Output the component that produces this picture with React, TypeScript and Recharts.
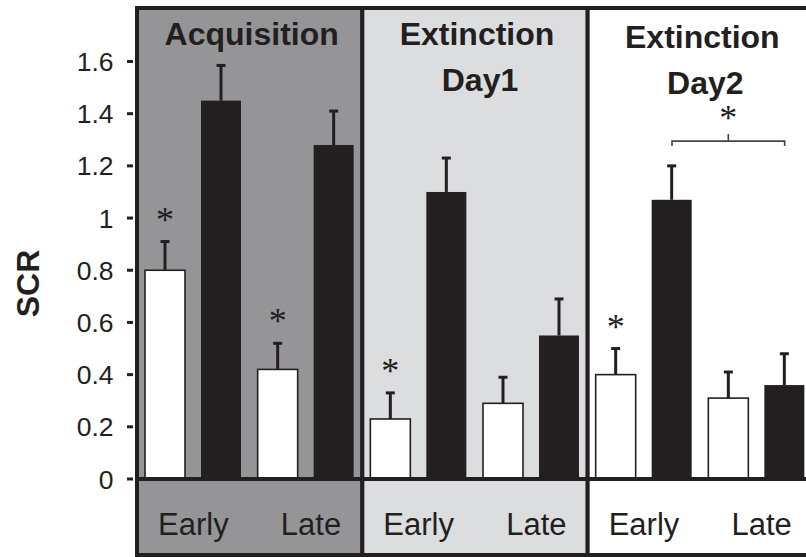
import React from 'react';
import {
  BarChart,
  Bar,
  XAxis,
  YAxis,
  ReferenceArea,
  ReferenceLine,
  LabelList,
} from 'recharts';

// ---------- data ----------
const categories = ['Acq-Early', 'Acq-Late', 'Ext1-Early', 'Ext1-Late', 'Ext2-Early', 'Ext2-Late'];
const tickLabels = ['Early', 'Late', 'Early', 'Late', 'Early', 'Late'];
const csMinus = [0.8, 0.42, 0.23, 0.29, 0.4, 0.31];
const csMinusErr = [0.11, 0.1, 0.1, 0.1, 0.1, 0.1];
const csPlus = [1.45, 1.28, 1.1, 0.55, 1.07, 0.36];
const csPlusErr = [0.135, 0.13, 0.13, 0.14, 0.13, 0.12];
const csMinusSig = ['*', '*', '*', '', '*', ''];
const yTicks = [0, 0.2, 0.4, 0.6, 0.8, 1, 1.2, 1.4, 1.6];

const phases = [
  { from: 'Acq-Early', to: 'Acq-Late', title: ['Acquisition'], fill: '#959598', dy: 0 },
  { from: 'Ext1-Early', to: 'Ext1-Late', title: ['Extinction', 'Day1'], fill: '#dcdddf', dy: 0 },
  { from: 'Ext2-Early', to: 'Ext2-Late', title: ['Extinction', 'Day2'], fill: '#ffffff', dy: 3 },
];
// significance bracket between CS+ Early and CS+ Late in Extinction Day2
const bracket = { from: 'Ext2-Early', to: 'Ext2-Late', y: 1.295, label: '*' };

const data = categories.map((c, i) => ({
  cat: c,
  label: tickLabels[i],
  minus: csMinus[i],
  minusErr: csMinusErr[i],
  plus: csPlus[i],
  plusErr: csPlusErr[i],
  sig: csMinusSig[i],
}));

const INK = '#231f20';
const SANS = '"Liberation Sans", Arial, Helvetica, sans-serif';
const SERIF = '"Liberation Serif", "Times New Roman", serif';
const BAR = 40;
const GAP = 16;

const YTick = (props: any) => {
  const { y, payload } = props;
  return (
    <g>
      <line x1={127} x2={133} y1={y} y2={y} stroke={INK} strokeWidth={3} />
      <text x={113.5} y={y + 9.5} textAnchor="end" fontSize={26.5} fill={INK} fontFamily={SANS}>
        {payload.value}
      </text>
    </g>
  );
};

const XTick = (props: any) => {
  const { x, y, payload, index } = props;
  const lbl = tickLabels[index] ?? payload.value;
  const shift = lbl === 'Late' ? 5 : 0;
  return (
    <text x={x + shift} y={y + 56} textAnchor="middle" fontSize={31} fill={INK} fontFamily={SANS}>
      {lbl}
    </text>
  );
};

const PanelTitle = (lines: string[], dy: number) => (props: any) => {
  const vb = props.viewBox || {};
  const cx = vb.x + vb.width / 2;
  return (
    <g>
      {lines.map((t, i) => (
        <text
          key={i}
          x={cx + (i > 0 ? 5 : 2)}
          y={vb.y + 37 + dy + i * 46}
          textAnchor="middle"
          fontSize={32}
          fontWeight="bold"
          fill={INK}
          fontFamily={SANS}
        >
          {t}
        </text>
      ))}
    </g>
  );
};

// bar with an upward-only error whisker (length scaled by the bar's own px/unit)
const makeBarShape = (errKey: string, valKey: string, fill: string, stroke?: string) => (props: any) => {
  const { x, y, width, height, payload } = props;
  const v = payload[valKey];
  const e = payload[errKey];
  const pxPerUnit = v ? height / v : 0;
  const top = y - e * pxPerUnit;
  const cx = x + width / 2;
  return (
    <g>
      <rect
        x={x}
        y={y}
        width={width}
        height={height}
        fill={fill}
        stroke={stroke || 'none'}
        strokeWidth={stroke ? 1.6 : 0}
      />
      <line x1={cx} x2={cx} y1={y} y2={top} stroke={INK} strokeWidth={3} />
      <line x1={cx - 4.5} x2={cx + 4.5} y1={top} y2={top} stroke={INK} strokeWidth={3} />
    </g>
  );
};

const Star = (props: any) => {
  const { index, value } = props;
  if (!value) return null;
  const vb = props.viewBox || props;
  const x = props.x ?? vb.x;
  const y = props.y ?? vb.y;
  const w = props.width ?? vb.width;
  const h = props.height ?? vb.height;
  const pxPerUnit = Math.abs(h) / csMinus[index];
  const errTop = y - csMinusErr[index] * pxPerUnit;
  const cy = errTop - 27;
  return (
    <text x={x + w / 2} y={cy + 17} textAnchor="middle" fontSize={36} fill={INK} fontFamily={SERIF}>
      {value}
    </text>
  );
};

const Bracket = (props: any) => {
  const { x1, x2, y1 } = props;
  const off = GAP / 2 + BAR / 2;
  const a = x1 + off;
  const b = x2 + off;
  const m = (a + b) / 2;
  return (
    <g>
      <path
        d={`M${a},${y1 + 5} L${a},${y1} L${b},${y1} L${b},${y1 + 5} M${m},${y1} L${m},${y1 - 7}`}
        fill="none"
        stroke="#444"
        strokeWidth={1.6}
      />
      <text x={m} y={y1 - 28 + 17} textAnchor="middle" fontSize={36} fill={INK} fontFamily={SERIF}>
        {bracket.label}
      </text>
    </g>
  );
};

const SCRLabel = () => (
  <text
    x={39}
    y={283.5}
    transform="rotate(-90, 39, 283.5)"
    textAnchor="middle"
    fontSize={32}
    fontWeight="bold"
    fill={INK}
    fontFamily={SANS}
  >
    SCR
  </text>
);

export default function App() {
  return (
    <div
      style={{
        position: 'fixed',
        left: 0,
        top: 0,
        width: 806,
        height: 557,
        overflow: 'hidden',
        background: '#fff',
      }}
    >
      <BarChart
        width={830}
        height={557}
        data={data}
        margin={{ top: 8, right: 17, bottom: 0, left: 0 }}
        barGap={GAP}
      >
        {phases.map((p, i) => (
          <ReferenceArea
            key={i}
            x1={p.from}
            x2={p.to}
            y1={-0.291}
            y2={1.805}
            ifOverflow="visible"
            fill={p.fill}
            fillOpacity={1}
            stroke={INK}
            strokeWidth={4}
            label={PanelTitle(p.title, p.dy)}
          />
        ))}
        <XAxis
          dataKey="cat"
          height={78}
          tickSize={0}
          tickMargin={0}
          tick={<XTick />}
          axisLine={{ stroke: INK, strokeWidth: 4 }}
          tickLine={false}
          interval={0}
        />
        <YAxis
          width={137}
          domain={[0, 1.805]}
          ticks={yTicks}
          tick={<YTick />}
          axisLine={false}
          tickLine={false}
          allowDataOverflow
          label={<SCRLabel />}
        />
        <Bar
          dataKey="minus"
          barSize={BAR}
          isAnimationActive={false}
          shape={makeBarShape('minusErr', 'minus', '#ffffff', INK)}
        >
          <LabelList dataKey="sig" content={<Star />} />
        </Bar>
        <Bar
          dataKey="plus"
          barSize={BAR}
          isAnimationActive={false}
          shape={makeBarShape('plusErr', 'plus', INK)}
        />
        <ReferenceLine
          segment={[
            { x: bracket.from, y: bracket.y },
            { x: bracket.to, y: bracket.y },
          ]}
          shape={<Bracket />}
          ifOverflow="visible"
        />
      </BarChart>
    </div>
  );
}
